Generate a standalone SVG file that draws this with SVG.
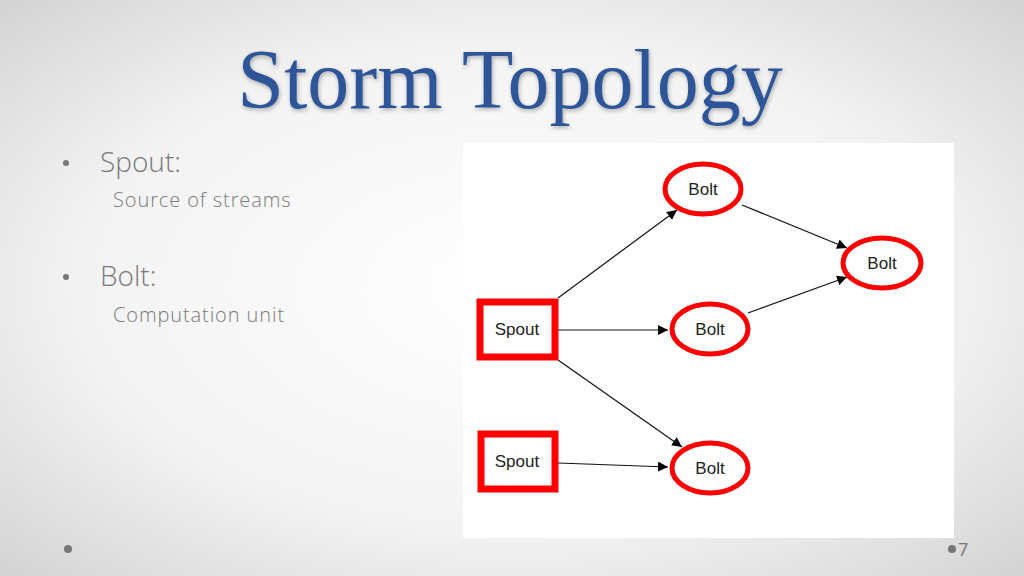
<svg xmlns="http://www.w3.org/2000/svg" width="1024" height="576" viewBox="0 0 1024 576">
<defs>
<radialGradient id="bg" cx="0.5" cy="0.5" r="0.7">
<stop offset="0" stop-color="#ffffff"/><stop offset="0.6" stop-color="#f3f3f3"/><stop offset="1" stop-color="#d4d4d4"/>
</radialGradient>
<marker id="ah" viewBox="0 0 10 10" refX="10" refY="5" markerWidth="10" markerHeight="10" markerUnits="userSpaceOnUse" orient="auto"><path d="M0,0 L10,5 L0,10 z" fill="#000"/></marker>
<filter id="sh" x="-20%" y="-20%" width="140%" height="140%"><feDropShadow dx="1" dy="2" stdDeviation="2" flood-color="#000" flood-opacity="0.3"/></filter>
</defs>
<style>
.bolt{fill:#fff;stroke:#ff0000;stroke-width:5}
.spout{fill:#fff;stroke:#ff0000;stroke-width:7}
.lbl{font-family:"Liberation Sans",Arial,sans-serif;font-size:17px;fill:#222;text-anchor:middle}
.edge{stroke:#111;stroke-width:1.2;fill:none;marker-end:url(#ah)}
.b1{font-family:"Open Sans","Liberation Sans",sans-serif;font-size:28px;fill:#7a7a7a;font-weight:300}
.b2{font-family:"Open Sans","Liberation Sans",sans-serif;font-size:20px;fill:#7a7a7a;font-weight:300;letter-spacing:0.9px}
.dot{fill:#777}
</style>
<rect width="1024" height="576" fill="url(#bg)"/>
<text x="510" y="108" text-anchor="middle" font-family="'Liberation Serif','Times New Roman',serif" font-size="84" fill="#2e5597" filter="url(#sh)">Storm Topology</text>
<circle class="dot" cx="66" cy="163" r="3"/>
<text class="b1" x="100" y="172">Spout:</text>
<text class="b2" x="113" y="207">Source of streams</text>
<circle class="dot" cx="66" cy="277" r="3"/>
<text class="b1" x="100" y="286">Bolt:</text>
<text class="b2" x="113" y="322">Computation unit</text>
<ellipse class="dot" cx="68" cy="549" rx="4" ry="4"/>
<ellipse class="dot" cx="952" cy="549" rx="4" ry="4"/>
<text x="958" y="556" font-family="'Open Sans','Liberation Sans',sans-serif" font-size="18" fill="#777">7</text>
<rect x="463" y="143" width="491" height="395" fill="#fff"/>
<g id="connectors">
<line class="edge" x1="558" y1="298" x2="677" y2="210"/>
<line class="edge" x1="558" y1="330" x2="668" y2="330"/>
<line class="edge" x1="558" y1="360" x2="682" y2="447"/>
<line class="edge" x1="558" y1="463" x2="668" y2="467"/>
<line class="edge" x1="742" y1="205" x2="847" y2="248"/>
<line class="edge" x1="748" y1="313" x2="847" y2="277"/>
</g>
<g id="spout1"><rect class="spout" x="480" y="302" width="75" height="55"/><text class="lbl" x="517" y="335">Spout</text></g>
<g id="spout2"><rect class="spout" x="481" y="434" width="74" height="55"/><text class="lbl" x="517" y="467">Spout</text></g>
<g id="bolt1"><ellipse class="bolt" cx="703" cy="189" rx="38" ry="25"/><text class="lbl" x="703" y="195">Bolt</text></g>
<g id="bolt2"><ellipse class="bolt" cx="882" cy="263" rx="39" ry="25"/><text class="lbl" x="882" y="269">Bolt</text></g>
<g id="bolt3"><ellipse class="bolt" cx="710" cy="329" rx="38" ry="25"/><text class="lbl" x="710" y="335">Bolt</text></g>
<g id="bolt4"><ellipse class="bolt" cx="710" cy="468" rx="38" ry="25"/><text class="lbl" x="710" y="474">Bolt</text></g>
</svg>
